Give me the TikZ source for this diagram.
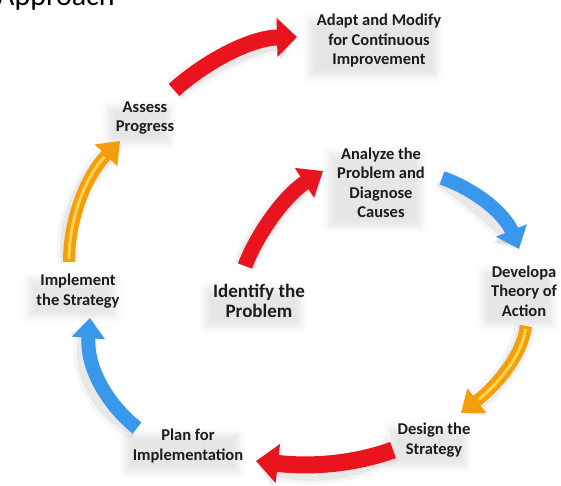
\documentclass[tikz,border=0pt]{standalone}
\usepackage{fontspec}
\setmainfont{Carlito}
\usetikzlibrary{arrows.meta,shadows.blur}
\definecolor{cred}{RGB}{234,20,30}
\definecolor{cblue}{RGB}{58,152,236}
\definecolor{corange}{RGB}{245,158,12}
\definecolor{cyellow}{RGB}{255,222,95}
\definecolor{ctext}{RGB}{28,28,28}
% #1 colour, #2 shaft width, #3 head width, #4 head length, #5 start, #6 c1, #7 c2, #8 end
\newcommand\arcarrow[8]{%
  \begin{scope}[shift={(-6,8)}]
    \draw[line width=#2+10, draw=black, opacity=0.035, -{Triangle[width=#3,length=#4]}] (#5) .. controls (#6) and (#7) .. (#8);
    \draw[line width=#2+3, draw=black, opacity=0.06, -{Triangle[width=#3,length=#4]}] (#5) .. controls (#6) and (#7) .. (#8);
  \end{scope}
  \draw[line width=#2, draw=#1, -{Triangle[width=#3,length=#4]}] (#5) .. controls (#6) and (#7) .. (#8);
}
\begin{document}
\begin{tikzpicture}[x=1pt,y=-1pt,
  lbl/.style={font=\bfseries\fontsize{16.5}{19.5}\selectfont, align=center, text=ctext, inner sep=2pt,
    blur shadow={shadow xshift=-6pt, shadow yshift=-7pt, shadow opacity=10, shadow blur radius=7pt}},
  biglbl/.style={lbl, font=\bfseries\fontsize{19}{20.5}\selectfont},
  glow/.style={line width=3, draw=cyellow, opacity=0.85}
]
\useasboundingbox (0,0) rectangle (561,485);
\clip (0,0) rectangle (561,485);

\node[anchor=base west, inner sep=0, font=\fontsize{30}{30}\selectfont, text=black] (appr) at (-3,5) {Approach};

% labels
\node[lbl] (adapt) at (379,41) {Adapt and Modify\\for Continuous\\Improvement};
\node[lbl] (assess) at (145,118) {Assess\\Progress};
\node[lbl] (analyze) at (381,183) {Analyze the\\Problem and\\Diagnose\\Causes};
\node[lbl] (develop) at (524,291) {Developa\\Theory of\\Action};
\node[lbl] (design) at (434,440) {Design the\\Strategy};
\node[lbl] (plan) at (188,446) {Plan for\\Implementation};
\node[lbl] (implement) at (78,291) {Implement\\the Strategy};
\node[biglbl] (identify) at (259,301) {Identify the\\Problem};

% arrow end points
\coordinate (a1s) at (174,90);  \coordinate (a1e) at (297,37);
\coordinate (a2s) at (69,262);  \coordinate (a2e) at (120,141);
\coordinate (a3s) at (137,428); \coordinate (a3e) at (90,318);
\coordinate (a4s) at (393,450); \coordinate (a4e) at (256,461);
\coordinate (a5s) at (526,326); \coordinate (a5e) at (461,413);
\coordinate (a6s) at (442,178); \coordinate (a6e) at (519,249);
\coordinate (a7s) at (245,266); \coordinate (a7e) at (323,171);

% outer cycle
\arcarrow{cred}{16}{38}{20}{a1s}{205,62}{250,38}{a1e}
\arcarrow{corange}{12}{30}{20}{a2s}{69,222}{84,178}{a2e}
\draw[glow, shorten >=22pt, shorten <=3pt] (a2s) .. controls (69,222) and (84,178) .. (a2e);
\arcarrow{cblue}{14}{32}{20}{a3s}{108,405}{86,368}{a3e}
\arcarrow{cred}{17}{38}{22}{a4s}{360,462}{318,468}{a4e}
% inner spiral
\arcarrow{cred}{15}{34}{22}{a7s}{256,236}{284,196}{a7e}
\arcarrow{cblue}{14}{32}{20}{a6s}{472,188}{504,212}{a6e}
\arcarrow{corange}{12}{30}{20}{a5s}{522,356}{496,386}{a5e}
\draw[glow, shorten >=22pt, shorten <=3pt] (a5s) .. controls (522,356) and (496,386) .. (a5e);
\end{tikzpicture}
\end{document}
